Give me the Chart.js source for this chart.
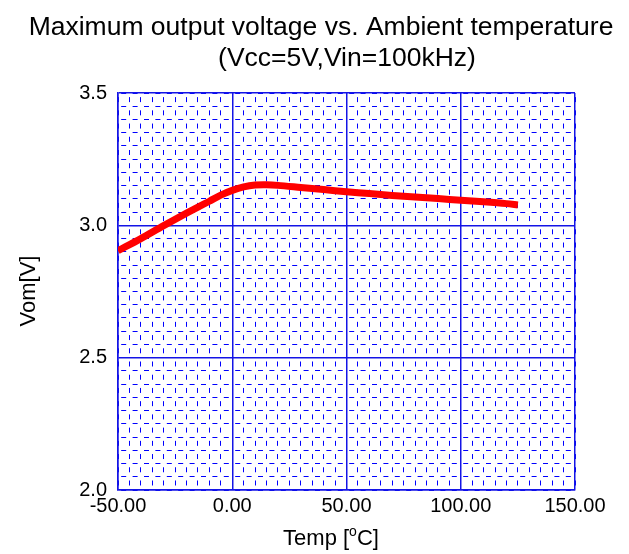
<!DOCTYPE html>
<html>
<head>
<meta charset="utf-8">
<script src="https://cdn.jsdelivr.net/npm/chart.js@4.4.1/dist/chart.umd.min.js"></script>
<style>
  html, body { margin: 0; padding: 0; background: #fff; }
  #wrap { width: 629px; height: 554px; }
</style>
</head>
<body>
<div id="wrap"><canvas id="vomChart" width="629" height="554"></canvas></div>
<script>
const titleLines = ['Maximum output voltage vs. Ambient temperature', '(Vcc=5V,Vin=100kHz)'];
const xTitle = ['Temp [', 'o', 'C]'];
const yTitle = 'Vom[V]';

const temps = [-50, -40, -30, -20, -15, -10, -5, 0, 5, 10, 15, 20, 30, 40, 50, 60, 70, 80, 90, 100, 110, 120, 125];
const vom = [2.904, 2.950, 2.999, 3.046, 3.069, 3.091, 3.114, 3.132, 3.145, 3.152, 3.153, 3.151, 3.143, 3.135, 3.127, 3.120, 3.113, 3.107, 3.101, 3.095, 3.089, 3.082, 3.077];

const xRange = [-50, 150];
const yRange = [2.0, 3.5];

const FONT = '"Liberation Sans", Arial, sans-serif';
const BLUE = '#1414e6';

const textPlugin = {
    id: 'texts',
    afterDraw(chart) {
        const ctx = chart.ctx;
        ctx.save();
        ctx.fillStyle = '#000';
        ctx.textBaseline = 'alphabetic';
        ctx.textAlign = 'center';
        ctx.font = '26.5px ' + FONT;
        ctx.fillText(titleLines[0], 321, 35);
        ctx.fillText(titleLines[1], 347, 66);

        // y axis title
        ctx.font = '22px ' + FONT;
        ctx.save();
        ctx.translate(35, 291);
        ctx.rotate(-Math.PI / 2);
        ctx.fillText(yTitle, 0, 0);
        ctx.restore();

        // x axis title, the o is raised
        ctx.textAlign = 'left';
        const big = '22px ' + FONT, small = '14px ' + FONT;
        ctx.font = big;
        const w1 = ctx.measureText(xTitle[0]).width;
        const w3 = ctx.measureText(xTitle[2]).width;
        ctx.font = small;
        const w2 = ctx.measureText(xTitle[1]).width;
        let x = 331 - (w1 + w2 + w3) / 2;
        const base = 545;
        ctx.font = big;
        ctx.fillText(xTitle[0], x, base);
        x += w1;
        ctx.font = small;
        ctx.fillText(xTitle[1], x, base - 9);
        x += w2;
        ctx.font = big;
        ctx.fillText(xTitle[2], x, base);
        ctx.restore();
    }
};

const ctx = document.getElementById('vomChart').getContext('2d');
const vomChart = new Chart(ctx, {
    type: 'line',
    data: {
        datasets: [{
            data: temps.map((t, i) => ({ x: t, y: vom[i] })),
            borderColor: '#ff0000',
            borderWidth: 7,
            pointRadius: 0,
            tension: 0.3,
            fill: false
        }]
    },
    options: {
        responsive: false,
        animation: false,
        layout: { padding: { top: 93, right: 54, left: 0, bottom: 0 } },
        plugins: {
            legend: { display: false },
            tooltip: { enabled: false },
            title: { display: false }
        },
        scales: {
            // vertical minor lines, dashes fall between the horizontal ones
            xMinor: {
                type: 'linear',
                position: 'bottom',
                min: xRange[0], max: xRange[1],
                ticks: { display: false, stepSize: 5 },
                grid: { color: '#0000ff', lineWidth: 1, drawTicks: false },
                border: { display: false, dash: [5, 8.22], dashOffset: 9.11 },
                afterFit(s) { s.height = 0; }
            },
            yMinor: {
                type: 'linear',
                position: 'left',
                min: yRange[0], max: yRange[1],
                ticks: { display: false, stepSize: 0.05 },
                grid: { color: '#0000ff', lineWidth: 1, drawTicks: false },
                border: { display: false, dash: [5, 6.4], dashOffset: 8.2 },
                afterFit(s) { s.width = 0; }
            },
            x: {
                type: 'linear',
                position: 'bottom',
                min: xRange[0], max: xRange[1],
                ticks: {
                    stepSize: 50,
                    autoSkip: false,
                    maxRotation: 0,
                    padding: 4,
                    color: '#000',
                    font: { family: FONT, size: 20 },
                    callback: v => v.toFixed(2)
                },
                grid: { color: BLUE, lineWidth: 1.5, drawTicks: false },
                border: { color: BLUE, width: 1.5 },
                afterFit(s) { s.height = 64; }
            },
            y: {
                type: 'linear',
                position: 'left',
                min: yRange[0], max: yRange[1],
                ticks: {
                    stepSize: 0.5,
                    autoSkip: false,
                    padding: 11,
                    color: '#000',
                    font: { family: FONT, size: 20 },
                    callback: v => v.toFixed(1)
                },
                grid: { color: BLUE, lineWidth: 1.5, drawTicks: false },
                border: { color: BLUE, width: 1.5 },
                afterFit(s) { s.width = 118; }
            }
        }
    },
    plugins: [textPlugin]
});
</script>
</body>
</html>
